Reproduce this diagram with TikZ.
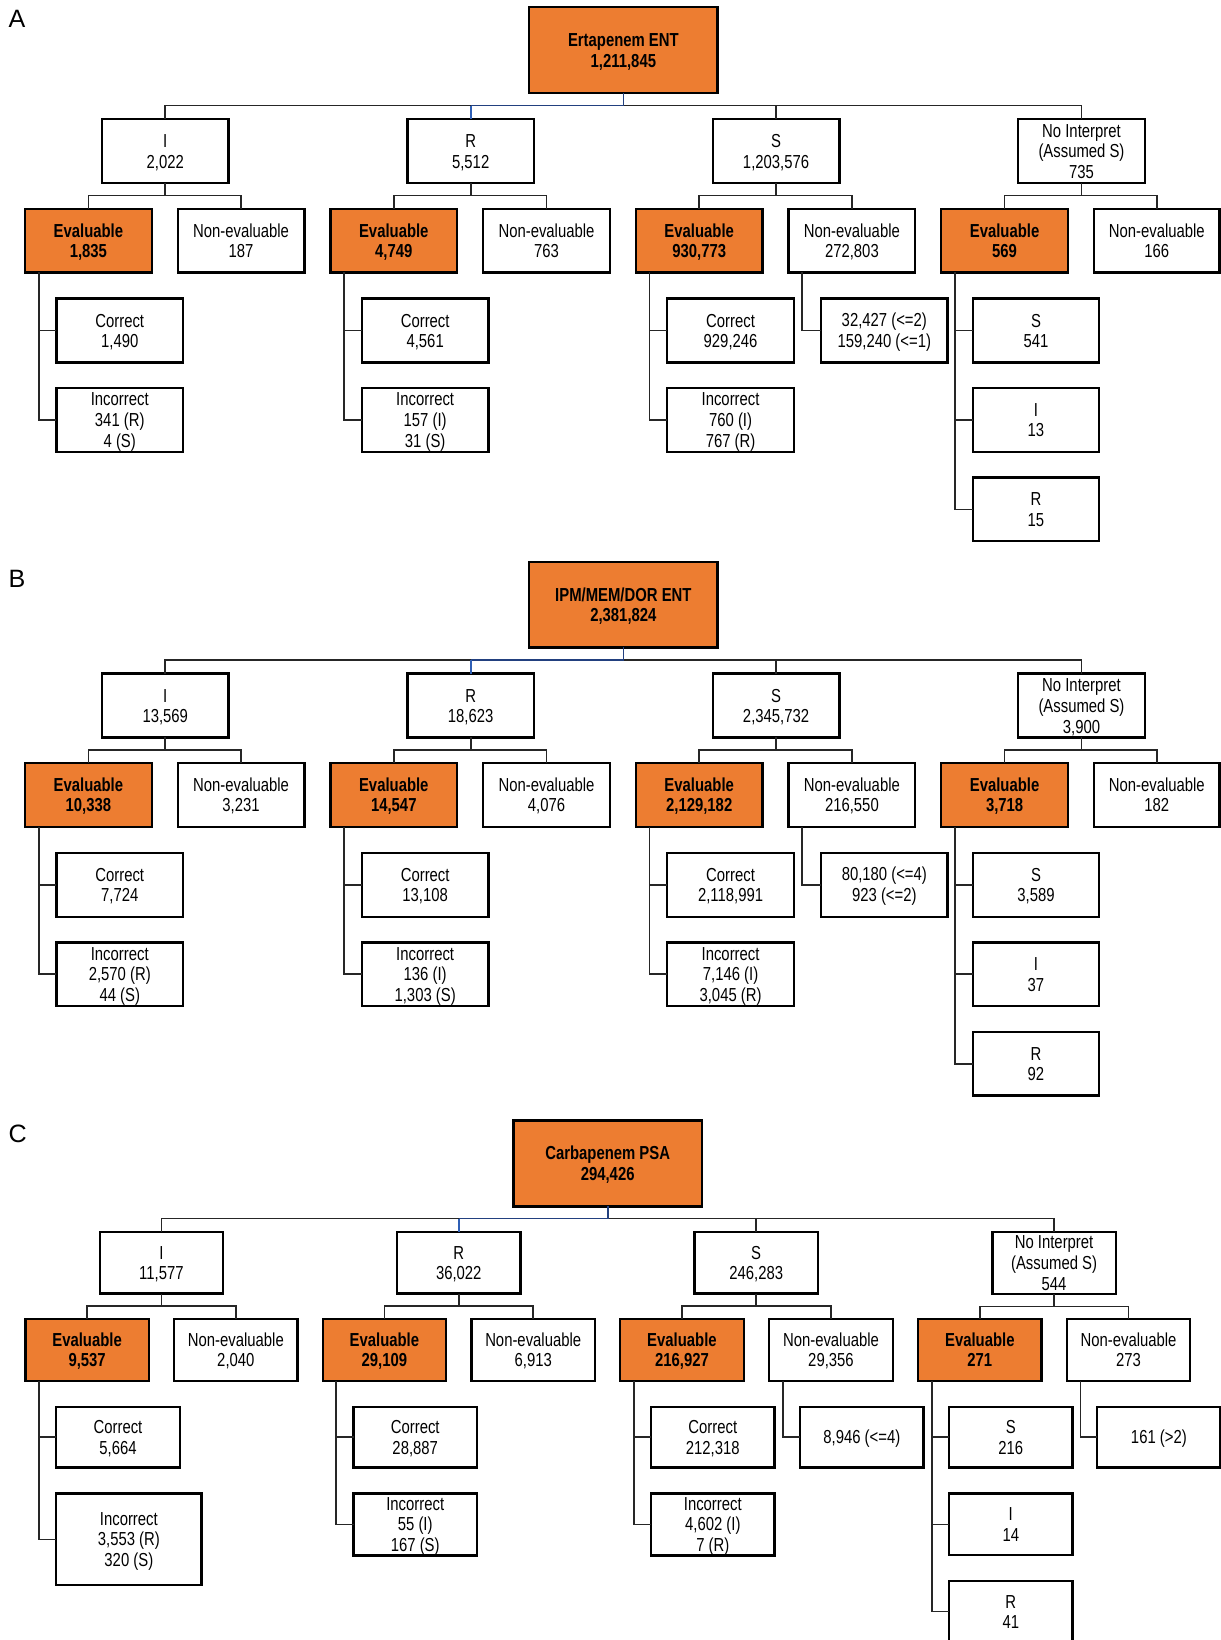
\documentclass[tikz,border=0pt]{standalone}
\usepackage{fontspec}
\setmainfont{Liberation Sans}[FakeStretch=0.79]
\newfontfamily\labelfont{Liberation Sans}
\usetikzlibrary{calc}
\definecolor{orfill}{HTML}{ED7D31}
\definecolor{conncol}{HTML}{262626}
\definecolor{navyc}{HTML}{22407F}
\definecolor{bluec}{HTML}{2F5FB5}
\newcommand\boxfont{\fontsize{18}{19.5}\selectfont
  \setbox\strutbox\hbox{\vrule height 16.2pt depth 3.3pt width 0pt}}
\newcommand\mytab[1]{\begin{tabular}{@{}c@{}}#1\end{tabular}}
\tikzset{
  box/.style={draw=black, line width=2.2pt, fill=white, inner sep=0pt, outer sep=0pt,
    minimum width=121pt, minimum height=61pt, font=\boxfont},
  obox/.style={box, fill=orfill, font=\boxfont\bfseries},
  topbox/.style={obox, minimum width=180pt, minimum height=82pt},
  cbox/.style={box, minimum width=118pt, minimum height=59pt},
  cobox/.style={obox, minimum width=118pt, minimum height=59pt},
  conn/.style={draw=conncol, line width=1.6pt},
  navyline/.style={draw=navyc, line width=1.6pt},
  blueline/.style={draw=bluec, line width=1.6pt},
  panellabel/.style={font={\labelfont\fontsize{24}{28}\selectfont}, anchor=base west, inner sep=0pt}
}
\newcommand\myfork[4]{%
  \draw[conn] (#2.north) |- ($(#1.south)+(0,#4)$) -| (#3.north);
  \draw[conn] (#1.south) -- ($(#1.south)+(0,#4)$);}
\newcommand\mybranch[2]{%
  \draw[conn] ([xshift=13pt]#1.south west) |- (#2.west);}
\begin{document}
\begin{tikzpicture}[x=1pt, y=-1pt]
\path[use as bounding box, fill=white] (0,0) rectangle (1167,1568);

% ================= Panel A =================
\node[panellabel] (labA) at (8,26.5) {A};
\node[topbox] (topA) at (596,48) {\mytab{Ertapenem ENT\\1,211,845}};
\coordinate (busA) at (596,101);
\node[box] (IA) at (158,144.5) {\mytab{I\\2,022}};
\node[box] (RA) at (450,144.5) {\mytab{R\\5,512}};
\node[box] (SA) at (742,144.5) {\mytab{S\\1,203,576}};
\node[box] (NA) at (1034,144.5) {\mytab{No Interpret\\(Assumed S)\\735}};
\node[obox] (EIA) at (84.5,230) {\mytab{Evaluable\\1,835}};
\node[box] (NIA) at (230.5,230) {\mytab{Non-evaluable\\187}};
\node[obox] (ERA) at (376.5,230) {\mytab{Evaluable\\4,749}};
\node[box] (NRA) at (522.5,230) {\mytab{Non-evaluable\\763}};
\node[obox] (ESA) at (668.5,230) {\mytab{Evaluable\\930,773}};
\node[box] (NSA) at (814.5,230) {\mytab{Non-evaluable\\272,803}};
\node[obox] (ENA) at (960.5,230) {\mytab{Evaluable\\569}};
\node[box, minimum width=120pt] (NNA) at (1106,230) {\mytab{Non-evaluable\\166}};
\node[box] (CIA) at (114.5,316) {\mytab{Correct\\1,490}};
\node[box] (XIA) at (114.5,401.5) {\mytab{Incorrect\\341 (R)\\4 (S)}};
\node[box] (CRA) at (406.5,316) {\mytab{Correct\\4,561}};
\node[box] (XRA) at (406.5,401.5) {\mytab{Incorrect\\157 (I)\\31 (S)}};
\node[box] (CSA) at (698.5,316) {\mytab{Correct\\929,246}};
\node[box] (XSA) at (698.5,401.5) {\mytab{Incorrect\\760 (I)\\767 (R)}};
\node[box] (QSA) at (845.5,316) {\mytab{32,427 (<=2)\\159,240 (<=1)}};
\node[box] (SNA) at (990.5,316) {\mytab{S\\541}};
\node[box] (INA) at (990.5,401.5) {\mytab{I\\13}};
\node[box] (RNA) at (990.5,487) {\mytab{R\\15}};
\draw[conn] (IA.north) |- (busA) -| (NA.north);
\draw[conn] (busA) -| (SA.north);
\draw[navyline] (topA.south) -- (busA) -- (RA.north |- busA);
\draw[blueline] (RA.north |- busA) -- (RA.north);
\myfork{IA}{EIA}{NIA}{12}
\myfork{RA}{ERA}{NRA}{12}
\myfork{SA}{ESA}{NSA}{12}
\myfork{NA}{ENA}{NNA}{12}
\mybranch{EIA}{CIA}\mybranch{EIA}{XIA}
\mybranch{ERA}{CRA}\mybranch{ERA}{XRA}
\mybranch{ESA}{CSA}\mybranch{ESA}{XSA}
\mybranch{NSA}{QSA}
\mybranch{ENA}{SNA}\mybranch{ENA}{INA}\mybranch{ENA}{RNA}

% ================= Panel B =================
\begin{scope}[yshift=-530pt]
\node[panellabel] (labB) at (8,31.5) {B};
\node[topbox] (topB) at (596,48) {\mytab{IPM/MEM/DOR ENT\\2,381,824}};
\coordinate (busB) at (596,101);
\node[box] (IB) at (158,144.5) {\mytab{I\\13,569}};
\node[box] (RB) at (450,144.5) {\mytab{R\\18,623}};
\node[box] (SB) at (742,144.5) {\mytab{S\\2,345,732}};
\node[box] (NB) at (1034,144.5) {\mytab{No Interpret\\(Assumed S)\\3,900}};
\node[obox] (EIB) at (84.5,230) {\mytab{Evaluable\\10,338}};
\node[box] (NIB) at (230.5,230) {\mytab{Non-evaluable\\3,231}};
\node[obox] (ERB) at (376.5,230) {\mytab{Evaluable\\14,547}};
\node[box] (NRB) at (522.5,230) {\mytab{Non-evaluable\\4,076}};
\node[obox] (ESB) at (668.5,230) {\mytab{Evaluable\\2,129,182}};
\node[box] (NSB) at (814.5,230) {\mytab{Non-evaluable\\216,550}};
\node[obox] (ENB) at (960.5,230) {\mytab{Evaluable\\3,718}};
\node[box, minimum width=120pt] (NNB) at (1106,230) {\mytab{Non-evaluable\\182}};
\node[box] (CIB) at (114.5,316) {\mytab{Correct\\7,724}};
\node[box] (XIB) at (114.5,401.5) {\mytab{Incorrect\\2,570 (R)\\44 (S)}};
\node[box] (CRB) at (406.5,316) {\mytab{Correct\\13,108}};
\node[box] (XRB) at (406.5,401.5) {\mytab{Incorrect\\136 (I)\\1,303 (S)}};
\node[box] (CSB) at (698.5,316) {\mytab{Correct\\2,118,991}};
\node[box] (XSB) at (698.5,401.5) {\mytab{Incorrect\\7,146 (I)\\3,045 (R)}};
\node[box] (QSB) at (845.5,316) {\mytab{80,180 (<=4)\\923 (<=2)}};
\node[box] (SNB) at (990.5,316) {\mytab{S\\3,589}};
\node[box] (INB) at (990.5,401.5) {\mytab{I\\37}};
\node[box] (RNB) at (990.5,487) {\mytab{R\\92}};
\draw[conn] (IB.north) |- (busB) -| (NB.north);
\draw[conn] (busB) -| (SB.north);
\draw[navyline] (topB.south) -- (busB) -- (RB.north |- busB);
\draw[blueline] (RB.north |- busB) -- (RB.north);
\myfork{IB}{EIB}{NIB}{12}
\myfork{RB}{ERB}{NRB}{12}
\myfork{SB}{ESB}{NSB}{12}
\myfork{NB}{ENB}{NNB}{12}
\mybranch{EIB}{CIB}\mybranch{EIB}{XIB}
\mybranch{ERB}{CRB}\mybranch{ERB}{XRB}
\mybranch{ESB}{CSB}\mybranch{ESB}{XSB}
\mybranch{NSB}{QSB}
\mybranch{ENB}{SNB}\mybranch{ENB}{INB}\mybranch{ENB}{RNB}
\end{scope}

% ================= Panel C =================
\node[panellabel] (labC) at (8,1092) {C};
\node[topbox] (topC) at (581,1112.4) {\mytab{Carbapenem PSA\\294,426}};
\coordinate (busC) at (581,1165);
\node[cbox] (IC) at (154.3,1207.3) {\mytab{I\\11,577}};
\node[cbox] (RC) at (438.6,1207.3) {\mytab{R\\36,022}};
\node[cbox] (SC) at (723,1207.3) {\mytab{S\\246,283}};
\node[cbox] (NC) at (1007.8,1207.3) {\mytab{No Interpret\\(Assumed S)\\544}};
\node[cobox] (EIC) at (83.3,1290.6) {\mytab{Evaluable\\9,537}};
\node[cbox] (NIC) at (225.5,1290.6) {\mytab{Non-evaluable\\2,040}};
\node[cobox] (ERC) at (367.5,1290.6) {\mytab{Evaluable\\29,109}};
\node[cbox] (NRC) at (509.8,1290.6) {\mytab{Non-evaluable\\6,913}};
\node[cobox] (ESC) at (652,1290.6) {\mytab{Evaluable\\216,927}};
\node[cbox] (NSC) at (794.5,1290.6) {\mytab{Non-evaluable\\29,356}};
\node[cobox] (ENC) at (936.8,1290.6) {\mytab{Evaluable\\271}};
\node[cbox] (NNC) at (1079,1290.6) {\mytab{Non-evaluable\\273}};
\node[cbox, minimum height=58pt] (CIC) at (112.8,1374) {\mytab{Correct\\5,664}};
\node[cbox, minimum width=139pt, minimum height=87.5pt] (XIC) at (123.2,1471.8) {\mytab{Incorrect\\3,553 (R)\\320 (S)}};
\node[cbox, minimum height=58pt] (CRC) at (397,1374) {\mytab{Correct\\28,887}};
\node[cbox] (XRC) at (397,1457.5) {\mytab{Incorrect\\55 (I)\\167 (S)}};
\node[cbox, minimum height=58pt] (CSC) at (681.5,1374) {\mytab{Correct\\212,318}};
\node[cbox] (XSC) at (681.5,1457.5) {\mytab{Incorrect\\4,602 (I)\\7 (R)}};
\node[cbox, minimum height=58pt] (QSC) at (824,1374) {\mytab{8,946 (<=4)}};
\node[cbox, minimum height=58pt] (SNC) at (966.4,1374) {\mytab{S\\216}};
\node[cbox] (INC) at (966.4,1457.5) {\mytab{I\\14}};
\node[cbox] (RNC) at (966.4,1540.8) {\mytab{R\\41}};
\node[cbox, minimum height=58pt] (QNC) at (1108,1374) {\mytab{161 (>2)}};
\draw[conn] (IC.north) |- (busC) -| (NC.north);
\draw[conn] (busC) -| (SC.north);
\draw[navyline] (topC.south) -- (busC) -- (RC.north |- busC);
\draw[blueline] (RC.north |- busC) -- (RC.north);
\myfork{IC}{EIC}{NIC}{12}
\myfork{RC}{ERC}{NRC}{12}
\myfork{SC}{ESC}{NSC}{12}
\myfork{NC}{ENC}{NNC}{12}
\mybranch{EIC}{CIC}\mybranch{EIC}{XIC}
\mybranch{ERC}{CRC}\mybranch{ERC}{XRC}
\mybranch{ESC}{CSC}\mybranch{ESC}{XSC}
\mybranch{NSC}{QSC}
\mybranch{ENC}{SNC}\mybranch{ENC}{INC}\mybranch{ENC}{RNC}
\mybranch{NNC}{QNC}
\end{tikzpicture}
\end{document}
